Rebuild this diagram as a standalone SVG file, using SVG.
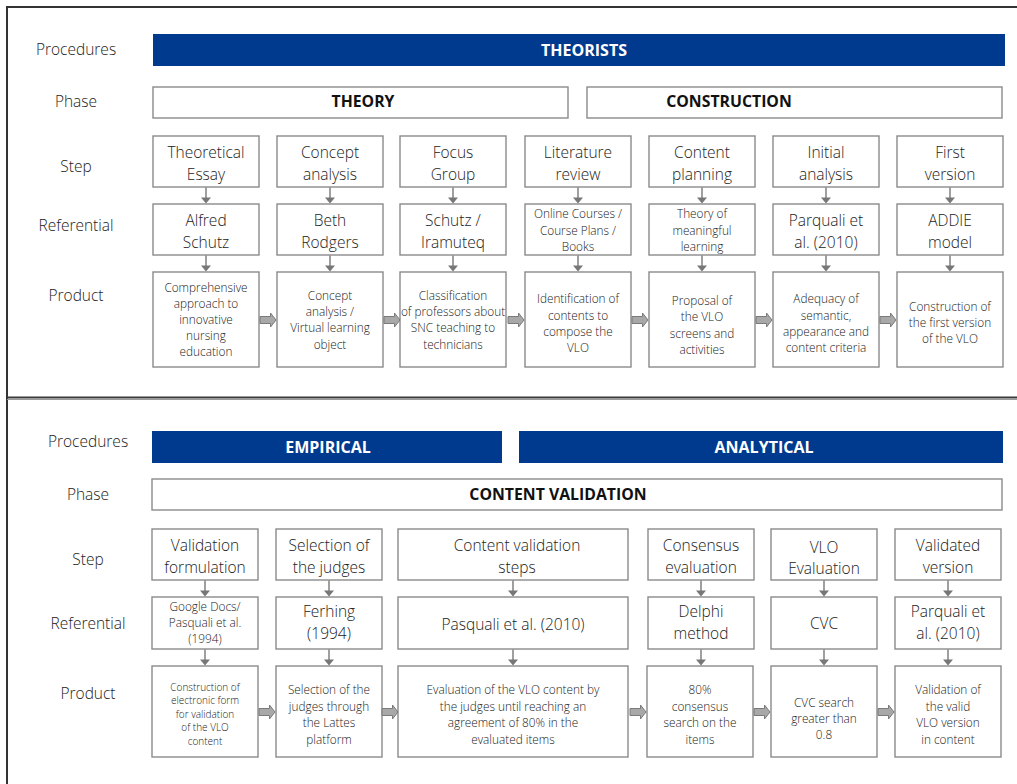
<svg xmlns="http://www.w3.org/2000/svg" width="1017" height="784" viewBox="0 0 1017 784">
<defs>
<style>
.bg{fill:#ffffff}
.frame{stroke:#333;stroke-width:2;fill:none}
.bar{fill:#003a8e}
.box{fill:#fff;stroke:#8a8a8a;stroke-width:1.4}
.lbl{font-family:"Open Sans","Noto Sans",sans-serif;font-size:15.5px;font-weight:300;fill:#222;text-anchor:middle}
.bt{font-family:"Open Sans","Noto Sans",sans-serif;font-size:16px;font-weight:700;fill:#fff;text-anchor:middle}
.pt{font-family:"Open Sans","Noto Sans",sans-serif;font-size:15.8px;font-weight:700;fill:#111;text-anchor:middle}
.st{font-family:"Open Sans","Noto Sans",sans-serif;font-size:15.5px;font-weight:300;fill:#222;text-anchor:middle}
.sm{font-family:"Open Sans","Noto Sans",sans-serif;font-size:11.8px;font-weight:300;fill:#222;text-anchor:middle}
.xs{font-family:"Open Sans","Noto Sans",sans-serif;font-size:10px;font-weight:300;fill:#222;text-anchor:middle}
.dl{stroke:#777;stroke-width:1.4}
.dh{fill:#777}
.ra{fill:#a8a8a8;stroke:#7a7a7a;stroke-width:1}
</style>
<path id="rarr" class="ra" d="M0,-3.5 H10.5 V-7 L16,0 L10.5,7 V3.5 H0 Z"/>
<g id="darr"><line class="dl" x1="0" y1="0" x2="0" y2="11"/><path class="dh" d="M-5,10 H5 L0,16 Z"/></g>
</defs>
<rect class="bg" x="0" y="0" width="1017" height="784"/>
<g id="frame">
<path class="frame" d="M7,784 V7 H1017"/>
<line x1="7" y1="397.5" x2="1017" y2="397.5" stroke="#3a3a3a" stroke-width="2"/>
<line x1="7" y1="399.5" x2="1017" y2="399.5" stroke="#9a9a9a" stroke-width="1"/>
</g>
<!-- TOP SECTION -->
<g id="labels-top">
<text class="lbl" x="76" y="55">Procedures</text>
<text class="lbl" x="76" y="107">Phase</text>
<text class="lbl" x="76" y="172">Step</text>
<text class="lbl" x="76" y="231">Referential</text>
<text class="lbl" x="76" y="301">Product</text>
</g>
<g id="theorists"><rect class="bar" x="153" y="34" width="852" height="32"/><text class="bt" x="584" y="56">THEORISTS</text></g>
<g id="phase-theory"><rect class="box" x="153" y="87" width="415" height="31"/><text class="pt" x="363" y="107">THEORY</text></g>
<g id="phase-construction"><rect class="box" x="587" y="87" width="415" height="31"/><text class="pt" x="729" y="107">CONSTRUCTION</text></g>

<g id="t-step1"><rect class="box" x="153" y="136" width="106" height="51"/><text class="st" x="206" y="158">Theoretical</text><text class="st" x="206" y="180">Essay</text></g>
<g id="t-step2"><rect class="box" x="277" y="136" width="106" height="51"/><text class="st" x="330" y="158">Concept</text><text class="st" x="330" y="180">analysis</text></g>
<g id="t-step3"><rect class="box" x="400" y="136" width="106" height="51"/><text class="st" x="453" y="158">Focus</text><text class="st" x="453" y="180">Group</text></g>
<g id="t-step4"><rect class="box" x="525" y="136" width="106" height="51"/><text class="st" x="578" y="158">Literature</text><text class="st" x="578" y="180">review</text></g>
<g id="t-step5"><rect class="box" x="649" y="136" width="106" height="51"/><text class="st" x="702" y="158">Content</text><text class="st" x="702" y="180">planning</text></g>
<g id="t-step6"><rect class="box" x="773" y="136" width="106" height="51"/><text class="st" x="826" y="158">Initial</text><text class="st" x="826" y="180">analysis</text></g>
<g id="t-step7"><rect class="box" x="897" y="136" width="106" height="51"/><text class="st" x="950" y="158">First</text><text class="st" x="950" y="180">version</text></g>

<g id="t-ref1"><rect class="box" x="153" y="204" width="106" height="51"/><text class="st" x="206" y="226">Alfred</text><text class="st" x="206" y="248">Schutz</text></g>
<g id="t-ref2"><rect class="box" x="277" y="204" width="106" height="51"/><text class="st" x="330" y="226">Beth</text><text class="st" x="330" y="248">Rodgers</text></g>
<g id="t-ref3"><rect class="box" x="400" y="204" width="106" height="51"/><text class="st" x="453" y="226">Schutz /</text><text class="st" x="453" y="248">Iramuteq</text></g>
<g id="t-ref4"><rect class="box" x="525" y="204" width="106" height="51"/><text class="sm" x="578" y="218">Online Courses /</text><text class="sm" x="578" y="234.5">Course Plans /</text><text class="sm" x="578" y="251">Books</text></g>
<g id="t-ref5"><rect class="box" x="649" y="204" width="106" height="51"/><text class="sm" x="702" y="218">Theory of</text><text class="sm" x="702" y="234.5">meaningful</text><text class="sm" x="702" y="251">learning</text></g>
<g id="t-ref6"><rect class="box" x="773" y="204" width="106" height="51"/><text class="st" x="826" y="226">Parquali et</text><text class="st" x="826" y="248">al. (2010)</text></g>
<g id="t-ref7"><rect class="box" x="897" y="204" width="106" height="51"/><text class="st" x="950" y="226">ADDIE</text><text class="st" x="950" y="248">model</text></g>

<g id="t-prod1"><rect class="box" x="153" y="272" width="106" height="95"/><text class="sm" x="206" y="292">Comprehensive</text><text class="sm" x="206" y="308">approach to</text><text class="sm" x="206" y="324">innovative</text><text class="sm" x="206" y="340">nursing</text><text class="sm" x="206" y="356">education</text></g>
<g id="t-prod2"><rect class="box" x="277" y="272" width="106" height="95"/><text class="sm" x="330" y="300">Concept</text><text class="sm" x="330" y="316">analysis /</text><text class="sm" x="330" y="332">Virtual learning</text><text class="sm" x="330" y="349">object</text></g>
<g id="t-prod3"><rect class="box" x="400" y="272" width="106" height="95"/><text class="sm" x="453" y="300">Classification</text><text class="sm" x="453" y="316">of professors about</text><text class="sm" x="453" y="332">SNC teaching to</text><text class="sm" x="453" y="349">technicians</text></g>
<g id="t-prod4"><rect class="box" x="525" y="272" width="106" height="95"/><text class="sm" x="578" y="303">Identification of</text><text class="sm" x="578" y="320">contents to</text><text class="sm" x="578" y="336">compose the</text><text class="sm" x="578" y="352">VLO</text></g>
<g id="t-prod5"><rect class="box" x="649" y="272" width="106" height="95"/><text class="sm" x="702" y="305">Proposal of</text><text class="sm" x="702" y="321">the VLO</text><text class="sm" x="702" y="338">screens and</text><text class="sm" x="702" y="354">activities</text></g>
<g id="t-prod6"><rect class="box" x="773" y="272" width="106" height="95"/><text class="sm" x="826" y="303">Adequacy of</text><text class="sm" x="826" y="320">semantic,</text><text class="sm" x="826" y="336">appearance and</text><text class="sm" x="826" y="352">content criteria</text></g>
<g id="t-prod7"><rect class="box" x="897" y="272" width="106" height="95"/><text class="sm" x="950" y="311">Construction of</text><text class="sm" x="950" y="327">the first version</text><text class="sm" x="950" y="343">of the VLO</text></g>

<!-- BOTTOM SECTION -->
<g id="labels-bottom">
<text class="lbl" x="88" y="447">Procedures</text>
<text class="lbl" x="88" y="500">Phase</text>
<text class="lbl" x="88" y="565">Step</text>
<text class="lbl" x="88" y="629">Referential</text>
<text class="lbl" x="88" y="699">Product</text>
</g>
<g id="empirical"><rect class="bar" x="152" y="431" width="350" height="32"/><text class="bt" x="328" y="453">EMPIRICAL</text></g>
<g id="analytical"><rect class="bar" x="519" y="431" width="484" height="32"/><text class="bt" x="764" y="453">ANALYTICAL</text></g>
<g id="phase-cv"><rect class="box" x="152" y="479" width="850" height="31"/><text class="pt" x="558" y="500">CONTENT VALIDATION</text></g>

<g id="b-step1"><rect class="box" x="152" y="529" width="106" height="51"/><text class="st" x="205" y="551">Validation</text><text class="st" x="205" y="573">formulation</text></g>
<g id="b-step2"><rect class="box" x="276" y="529" width="106" height="51"/><text class="st" x="329" y="551">Selection of</text><text class="st" x="329" y="573">the judges</text></g>
<g id="b-step3"><rect class="box" x="398" y="529" width="230" height="51"/><text class="st" x="517" y="551">Content validation</text><text class="st" x="517" y="573">steps</text></g>
<g id="b-step4"><rect class="box" x="648" y="529" width="106" height="51"/><text class="st" x="701" y="551">Consensus</text><text class="st" x="701" y="573">evaluation</text></g>
<g id="b-step5"><rect class="box" x="771" y="529" width="106" height="51"/><text class="st" x="824" y="553">VLO</text><text class="st" x="824" y="574">Evaluation</text></g>
<g id="b-step6"><rect class="box" x="895" y="529" width="106" height="51"/><text class="st" x="948" y="551">Validated</text><text class="st" x="948" y="573">version</text></g>

<g id="b-ref1"><rect class="box" x="152" y="597" width="106" height="52"/><text class="sm" x="205" y="611">Google Docs/</text><text class="sm" x="205" y="627">Pasquali et al.</text><text class="sm" x="205" y="643">(1994)</text></g>
<g id="b-ref2"><rect class="box" x="276" y="597" width="106" height="52"/><text class="st" x="329" y="617">Ferhing</text><text class="st" x="329" y="639">(1994)</text></g>
<g id="b-ref3"><rect class="box" x="398" y="597" width="230" height="52"/><text class="st" x="513" y="630">Pasquali et al. (2010)</text></g>
<g id="b-ref4"><rect class="box" x="648" y="597" width="106" height="52"/><text class="st" x="701" y="617">Delphi</text><text class="st" x="701" y="639">method</text></g>
<g id="b-ref5"><rect class="box" x="771" y="597" width="106" height="52"/><text class="st" x="824" y="629">CVC</text></g>
<g id="b-ref6"><rect class="box" x="895" y="597" width="106" height="52"/><text class="st" x="948" y="617">Parquali et</text><text class="st" x="948" y="639">al. (2010)</text></g>

<g id="b-prod1"><rect class="box" x="152" y="666" width="106" height="91"/><text class="xs" x="205" y="690.5">Construction of</text><text class="xs" x="205" y="704">electronic form</text><text class="xs" x="205" y="717.5">for validation</text><text class="xs" x="205" y="731">of the VLO</text><text class="xs" x="205" y="744.5">content</text></g>
<g id="b-prod2"><rect class="box" x="276" y="666" width="106" height="91"/><text class="sm" x="329" y="694">Selection of the</text><text class="sm" x="329" y="711">judges through</text><text class="sm" x="329" y="727">the Lattes</text><text class="sm" x="329" y="744">platform</text></g>
<g id="b-prod3"><rect class="box" x="398" y="666" width="230" height="91"/><text class="sm" x="513" y="694">Evaluation of the VLO content by</text><text class="sm" x="513" y="711">the judges until reaching an</text><text class="sm" x="513" y="727">agreement of 80% in the</text><text class="sm" x="513" y="744">evaluated items</text></g>
<g id="b-prod4"><rect class="box" x="647" y="666" width="106" height="91"/><text class="sm" x="700" y="694">80%</text><text class="sm" x="700" y="711">consensus</text><text class="sm" x="700" y="727">search on the</text><text class="sm" x="700" y="744">items</text></g>
<g id="b-prod5"><rect class="box" x="771" y="666" width="106" height="91"/><text class="sm" x="824" y="707">CVC search</text><text class="sm" x="824" y="723">greater than</text><text class="sm" x="824" y="739">0.8</text></g>
<g id="b-prod6"><rect class="box" x="895" y="666" width="106" height="91"/><text class="sm" x="948" y="694">Validation of</text><text class="sm" x="948" y="711">the valid</text><text class="sm" x="948" y="727">VLO version</text><text class="sm" x="948" y="744">in content</text></g>

<g id="connectors">
<use href="#darr" x="206" y="187.5"/><use href="#darr" x="330" y="187.5"/><use href="#darr" x="453" y="187.5"/><use href="#darr" x="578" y="187.5"/><use href="#darr" x="702" y="187.5"/><use href="#darr" x="826" y="187.5"/><use href="#darr" x="950" y="187.5"/>
<use href="#darr" x="206" y="255.5"/><use href="#darr" x="330" y="255.5"/><use href="#darr" x="453" y="255.5"/><use href="#darr" x="578" y="255.5"/><use href="#darr" x="702" y="255.5"/><use href="#darr" x="826" y="255.5"/><use href="#darr" x="950" y="255.5"/>
<use href="#rarr" x="260" y="320"/><use href="#rarr" x="384" y="320"/><use href="#rarr" x="508" y="320"/><use href="#rarr" x="632" y="320"/><use href="#rarr" x="756" y="320"/><use href="#rarr" x="880" y="320"/>
<use href="#darr" x="205" y="580.5"/><use href="#darr" x="329" y="580.5"/><use href="#darr" x="513" y="580.5"/><use href="#darr" x="701" y="580.5"/><use href="#darr" x="824" y="580.5"/><use href="#darr" x="948" y="580.5"/>
<use href="#darr" x="205" y="649.5"/><use href="#darr" x="329" y="649.5"/><use href="#darr" x="513" y="649.5"/><use href="#darr" x="701" y="649.5"/><use href="#darr" x="824" y="649.5"/><use href="#darr" x="948" y="649.5"/>
<use href="#rarr" x="259" y="712"/><use href="#rarr" x="382" y="712"/><use href="#rarr" x="630" y="712"/><use href="#rarr" x="754" y="712"/><use href="#rarr" x="878" y="712"/>
</g>
</svg>
